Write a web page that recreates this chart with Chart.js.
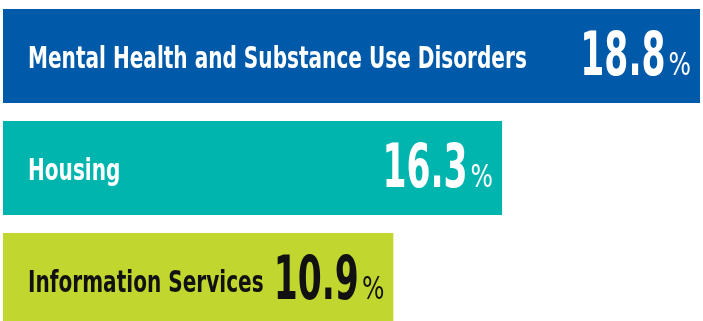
<!DOCTYPE html>
<html>
<head>
<meta charset="utf-8">
<script src="https://cdn.jsdelivr.net/npm/chart.js@4"></script>
<style>
  html, body { margin: 0; padding: 0; background: #fff; overflow: hidden; }
</style>
</head>
<body>
<canvas id="grafico" width="703" height="336"></canvas>
<script>
// dados
var categorias = ['Mental Health and Substance Use Disorders', 'Housing', 'Information Services'];
var percentuais = ['18.8', '16.3', '10.9'];
// comprimento relativo das barras (como desenhado, % da maior)
var comprimentos = [100, 71.6, 56.0];
var cores = ['#005aa9', '#00b5ad', '#c1d72f'];
var coresTexto = ['#ffffff', '#ffffff', '#111111'];

var FONTE = '"DejaVu Sans Condensed", "DejaVu Sans", sans-serif';

// desenha texto "apertado" na horizontal (fonte condensada)
function textoCondensado(ctx, texto, x, y, fonte, fator, alinhamento) {
  ctx.save();
  ctx.font = fonte;
  var w = ctx.measureText(texto).width * fator;
  var x0 = alinhamento === 'right' ? x - w : x;
  ctx.translate(x0, y);
  ctx.scale(fator, 1);
  ctx.textAlign = 'left';
  ctx.fillText(texto, 0, 0);
  ctx.restore();
  return w;
}

var rotulosPlugin = {
  id: 'rotulos',
  afterDatasetsDraw: function (chart) {
    var ctx = chart.ctx;
    var meta = chart.getDatasetMeta(0);
    meta.data.forEach(function (bar, i) {
      ctx.save();
      ctx.fillStyle = coresTexto[i];
      ctx.textBaseline = 'alphabetic';
      var fim = bar.x - 9;
      var wp = textoCondensado(ctx, '%', fim, bar.y + 19, '32px ' + FONTE, 0.82, 'right');
      textoCondensado(ctx, percentuais[i], fim - wp - 3, bar.y + 19, 'bold 60px ' + FONTE, 0.64, 'right');
      textoCondensado(ctx, categorias[i], bar.base + 25, bar.y + 12, 'bold 31px ' + FONTE, 0.72, 'left');
      ctx.restore();
    });
  }
};

new Chart(document.getElementById('grafico'), {
  type: 'bar',
  plugins: [rotulosPlugin],
  data: {
    labels: categorias,
    datasets: [
      {
        data: comprimentos,
        backgroundColor: cores,
        borderWidth: 0,
        barPercentage: 0.84,
        categoryPercentage: 1
      }
    ]
  },
  options: {
    indexAxis: 'y',
    responsive: false,
    animation: false,
    layout: { padding: { left: 3, right: 3, top: 0, bottom: 0 } },
    scales: {
      x: { display: false, min: 0, max: 100 },
      y: { display: false }
    },
    plugins: {
      legend: { display: false },
      tooltip: { enabled: false }
    }
  }
});
</script>
</body>
</html>
